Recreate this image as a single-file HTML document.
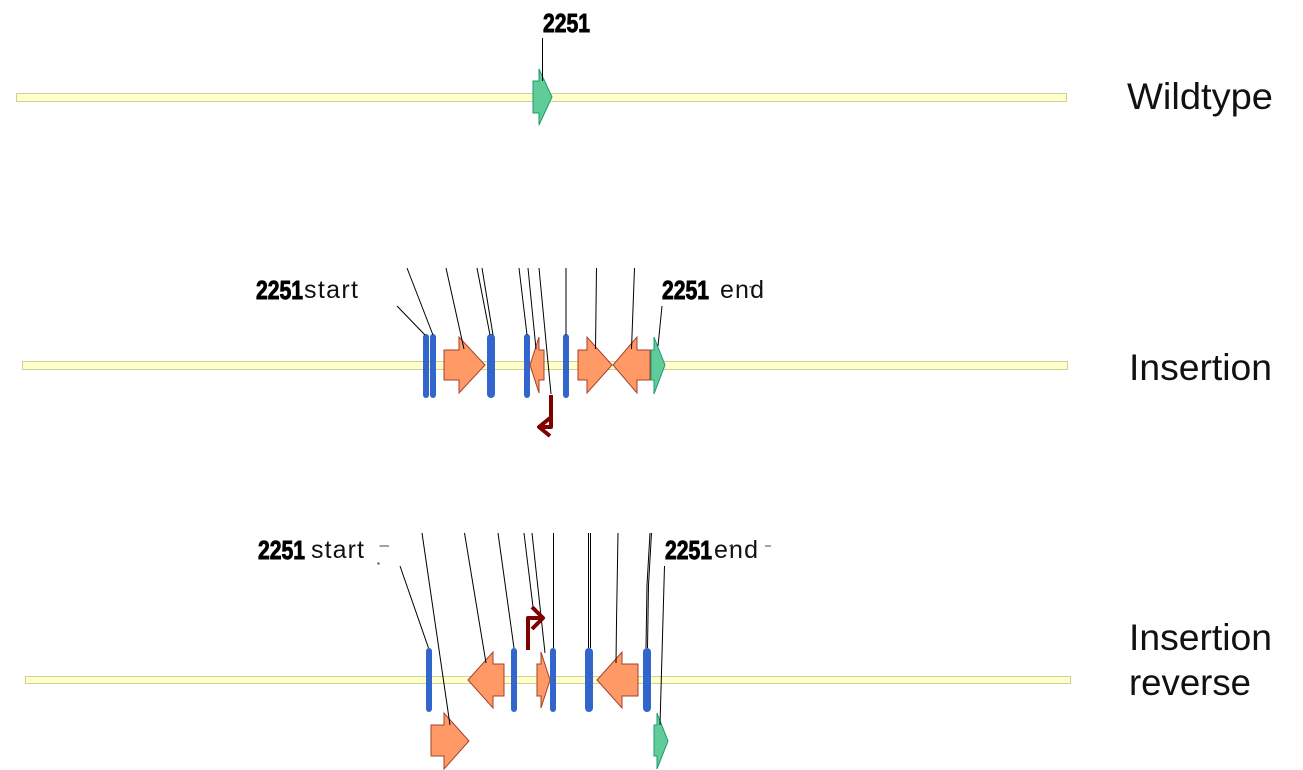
<!DOCTYPE html>
<html><head><meta charset="utf-8"><style>
html,body{margin:0;padding:0;background:#fff}
svg{display:block}
text{font-family:"Liberation Sans",sans-serif;fill:#111}
.n{font-size:26px;font-weight:bold;stroke:#000;stroke-width:.9px;fill:#000}
.s{font-size:25px}
.l{font-size:37px}
.bar{fill:#ffffcc;stroke:#cfcf96;stroke-width:1}
.o{fill:#ff9966;stroke:#a5402a;stroke-width:1}
.g{fill:#60cc9a;stroke:#1f9a70;stroke-width:1}
.b{fill:#3366cc}
.k{fill:none;stroke:#000;stroke-width:1}
.r{fill:none;stroke:#7f0000;stroke-width:4;stroke-linejoin:round}
</style></head><body>
<svg width="1303" height="770" viewBox="0 0 1303 770" xmlns="http://www.w3.org/2000/svg">
<rect x="0" y="0" width="1303" height="770" fill="#fff"/>
<!-- bars -->
<rect class="bar" x="16.5" y="93.5" width="1050" height="8"/>
<rect class="bar" x="22.5" y="361.5" width="1045" height="8"/>
<rect class="bar" x="25.5" y="676.5" width="1045" height="7"/>

<!-- wildtype -->
<polygon class="g" points="533,81 539,81 539,69 552,97 539,125 539,113 533,113"/>
<path class="k" d="M542.5 38V81"/>

<!-- insertion shapes -->
<rect class="b" x="423" y="334" width="6" height="64" rx="3"/>
<rect class="b" x="430" y="334" width="6" height="64" rx="3"/>
<rect class="b" x="487" y="334" width="8" height="64" rx="4"/>
<rect class="b" x="524" y="334" width="6" height="64" rx="3"/>
<rect class="b" x="563" y="334" width="6" height="64" rx="3"/>
<polygon class="o" points="444,350 459,350 459,337 485,365 459,393 459,380 444,380"/>
<polygon class="o" points="544,350 539,350 539,337 530,365 539,393 539,380 544,380"/>
<polygon class="o" points="578,350 587,350 587,337 612,365 587,393 587,380 578,380"/>
<polygon class="o" points="650,350 637,350 637,337 613,365 637,393 637,380 650,380"/>
<polygon class="g" points="651,350 654,350 654,337 665,365 654,394 654,380 651,380"/>
<path class="k" d="M397 306L425 335M407 268L433 335M446 268L464 349M477 268L490 335M482 268L493 335M519 268L527 335M528 268L536 349M539 268L551 394M566 268V335M596.500 268L595.500 349M634.500 268L631.500 349M662 306L658 346"/>
<path class="r" d="M551 395V427H539"/>
<path class="r" d="M550 418L539 427L550 436"/>

<!-- reverse shapes -->
<rect class="b" x="426" y="648" width="6" height="64" rx="3"/>
<rect class="b" x="511" y="648" width="6" height="64" rx="3"/>
<rect class="b" x="550" y="648" width="6" height="64" rx="3"/>
<rect class="b" x="585" y="648" width="8" height="64" rx="4"/>
<rect class="b" x="643" y="648" width="8" height="64" rx="4"/>
<polygon class="o" points="504,664 493,664 493,652 468,680 493,708 493,696 504,696"/>
<polygon class="o" points="537,664 541,664 541,652 550,680 541,708 541,696 537,696"/>
<polygon class="o" points="638,664 622,664 622,652 597,680 622,708 622,696 638,696"/>
<polygon class="o" points="431,725 444,725 444,713 469,741 444,769 444,756 431,756"/>
<polygon class="g" points="654,725 657,725 657,713 668,741 657,769 657,756 654,756"/>
<path class="k" d="M400 566L428.500 648M422 533L450 725M464.500 533L486 663M498 533L514 648M524 533L533 607M532 533L545 653M553.500 533V648M588.500 533V648M590.500 533V648M618 533L616.500 622L616 663M650 533L647 585L646 648M651.500 533L648.500 585L647.500 648M664.500 566L660 725"/>
<path class="r" d="M528 650V618H543"/>
<path class="r" d="M532 607L543 618L532 629"/>

<!-- text -->
<text class="n" x="543" y="32" textLength="47" lengthAdjust="spacingAndGlyphs">2251</text>
<text class="n" x="256" y="299" textLength="47" lengthAdjust="spacingAndGlyphs">2251</text>
<text class="s" x="304" y="298" textLength="54">start</text>
<text class="n" x="662" y="299" textLength="47" lengthAdjust="spacingAndGlyphs">2251</text>
<text class="s" x="720" y="298" textLength="44">end</text>
<text class="n" x="258" y="559" textLength="47" lengthAdjust="spacingAndGlyphs">2251</text>
<text class="s" x="311" y="558" textLength="53">start</text>
<text class="n" x="665" y="559" textLength="47" lengthAdjust="spacingAndGlyphs">2251</text>
<text class="s" x="714" y="558" textLength="44">end</text>
<path d="M379.500 546H389M765 546H771" stroke="#444" stroke-width="1" fill="none"/>
<rect x="377.500" y="562.500" width="2" height="2" fill="#444"/>
<rect x="729.500" y="545" width="2" height="1.500" fill="#444"/>
<rect x="749.500" y="286" width="2" height="1.500" fill="#444"/>
<text class="l" x="1127" y="109" textLength="146" lengthAdjust="spacingAndGlyphs">Wildtype</text>
<text class="l" x="1129" y="380" textLength="143" lengthAdjust="spacingAndGlyphs">Insertion</text>
<text class="l" x="1129" y="650" textLength="143" lengthAdjust="spacingAndGlyphs">Insertion</text>
<text class="l" x="1129" y="695" textLength="122" lengthAdjust="spacingAndGlyphs">reverse</text>
</svg>
</body></html>
